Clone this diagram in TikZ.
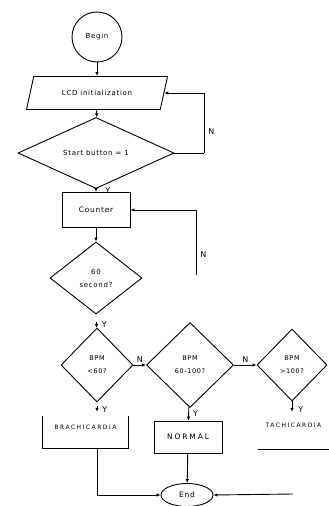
\documentclass[tikz,border=0pt]{standalone}
\usepackage{fontspec}
\setmainfont[LetterSpace=10]{DejaVu Sans}
\newfontfamily\capsfont[LetterSpace=25]{DejaVu Sans}
\usetikzlibrary{shapes.geometric,arrows.meta,positioning}
\tikzset{
  flow/.style={draw=black, line width=0.9pt},
  arrow/.style={flow, -{Latex[length=4pt,width=3.5pt]}},
  terminal/.style={draw=black, line width=0.9pt, circle, minimum size=50pt, inner sep=0pt, font=\fontsize{7}{9}\selectfont},
  endterm/.style={draw=black, line width=0.9pt, ellipse, minimum width=52pt, minimum height=23pt, inner sep=0pt, font=\fontsize{7.5}{9}\selectfont},
  io/.style={trapezium, trapezium stretches=true, trapezium left angle=70, trapezium right angle=110, draw=black, line width=0.9pt, minimum width=142pt, minimum height=33pt, font=\fontsize{7}{9}\selectfont},
  decision/.style={diamond, draw=black, line width=0.9pt, inner sep=0pt, align=center, font=\fontsize{6.5}{13}\selectfont},
  process/.style={rectangle, draw=black, line width=0.9pt, inner sep=0pt, font=\fontsize{7.5}{9}\selectfont},
  result/.style={rectangle, inner sep=0pt, font=\capsfont\fontsize{6}{8}\selectfont},
  lbl/.style={font=\fontsize{8}{9}\selectfont, inner sep=1pt},
}

\begin{document}
\begin{tikzpicture}[x=1pt,y=-1pt]
\useasboundingbox (0,0) rectangle (329,506);
% boxes
\node[terminal] (begin) at (97,37) {Begin};
\node[io] (lcd) at (97,93) {LCD initialization};
\node[decision, minimum width=156pt, minimum height=40pt, font=\fontsize{7}{9}\selectfont] (start) at (96,153) {Start button = 1};
\node[process, minimum width=68pt, minimum height=35pt] (counter) at (96,210) {Counter};
\node[decision, minimum width=92pt, minimum height=72pt, font=\fontsize{7}{13}\selectfont] (sixty) at (96,278) {60\\second?};
\node[decision, minimum width=72pt, minimum height=74pt] (low) at (97,365) {BPM\\<60?};
\node[decision, minimum width=87pt, minimum height=85pt] (mid) at (190,365) {BPM\\60-100?};
\node[decision, minimum width=70pt, minimum height=72pt] (high) at (292,365) {BPM\\>100?};
\node[result, minimum width=85pt, minimum height=32pt, text depth=10pt] (brady) at (85.5,432) {BRACHICARDIA};
\node[process, minimum width=68pt, minimum height=32pt, font=\capsfont\fontsize{7.5}{9}\selectfont] (normal) at (188,437) {NORMAL};
\node[result, minimum width=71pt, minimum height=32pt, text depth=15pt] (tachy) at (293.5,433) {TACHICARDIA};
\node[endterm] (end) at (187,495) {End};
% open sides
\draw[flow] (brady.north west) -- (brady.south west) -- (brady.south east) -- (brady.north east);
\draw[flow] (tachy.south west) -- (tachy.south east);
% free ends
\coordinate (loopa) at (204,153);
\coordinate (loopb) at (196,275);
\coordinate (rightin) at (293,494);
% connectors
\draw[arrow] (begin) -- (lcd);
\draw[arrow] (lcd) -- (start);
\draw[flow] (start.east) -- (loopa);
\draw[arrow] (loopa) |- (lcd.east) node[lbl, pos=0.18, right=3pt] (n1) {N};
\draw[arrow] (start) -- (counter) node[lbl, pos=0.6, right=8pt] (y1) {Y};
\draw[arrow] (loopb) |- (counter.east) node[lbl, pos=0.16, right=3pt] (n2) {N};
\draw[arrow] (counter) -- (sixty);
\draw[arrow, shorten <=8pt] (sixty) -- (low) node[lbl, pos=0.75, right=4pt] (y2) {Y};
\draw[arrow] (low) -- (mid) node[lbl, midway, above=1pt] (n3) {N};
\draw[arrow] (mid) -- (high) node[lbl, midway, above=1pt] (n4) {N};
\draw[arrow, shorten <=4pt, shorten >=4pt] (low.south) -- (low.south |- brady.north) node[lbl, midway, right=4pt] (y3) {Y};
\draw[arrow] (mid) -- (normal) node[lbl, midway, right=3pt] (y4) {Y};
\draw[arrow, shorten >=5pt] (high.south) -- (high.south |- tachy.north) node[lbl, midway, right=5pt] (y5) {Y};
\draw[arrow] (low.south |- brady.south) |- (end.west);
\draw[arrow] (normal) -- (end);
\draw[arrow] (rightin) -- (end.east);
\end{tikzpicture}
\end{document}
